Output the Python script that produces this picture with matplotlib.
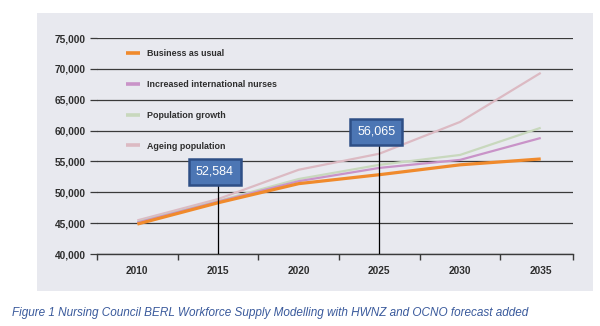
import matplotlib.pyplot as plt
from matplotlib.patches import Rectangle
from matplotlib.ticker import FuncFormatter

# Nurse workforce supply scenarios (BERL model)
years = [2010, 2015, 2020, 2025, 2030, 2035]
business_as_usual = [44850, 48300, 51400, 52850, 54450, 55400]
intl_nurses = [45100, 48500, 51800, 53950, 55250, 58800]
population_growth = [45200, 48600, 52150, 54450, 56050, 60450]
ageing_population = [45450, 48900, 53650, 56250, 61400, 69350]

# HWNZ / OCNO forecasts added as callouts
forecast_years = [2015, 2025]
forecast_values = [52584, 56065]
callout_heights = [53300, 59800]

fig = plt.figure(figsize=(6, 3.26), dpi=100)
fig.patches.append(Rectangle((37 / 600, 1 - 291 / 326), 556 / 600, 278 / 326,
                             transform=fig.transFigure, facecolor='#e8e9ef',
                             edgecolor='none', zorder=-1))

ax = fig.add_axes([97 / 600, 1 - 254 / 326, 476 / 600, 216 / 326])
ax.set_facecolor('none')
ax.set_zorder(2)

series = [
    ('Business as usual', business_as_usual, '#f08a2c', 2.3),
    ('Increased international nurses', intl_nurses, '#c993c8', 1.6),
    ('Population growth', population_growth, '#c8d8bd', 1.6),
    ('Ageing population', ageing_population, '#dcbac3', 1.6),
]
# draw ageing first so business as usual sits on top
for label, vals, col, lw in reversed(series):
    ax.plot(years, vals, color=col, lw=lw, label=label, solid_capstyle='butt')

ax.set_xlim(2007.5, 2037)
ax.set_ylim(40000, 75000)
ax.set_yticks(range(40000, 75001, 5000))
ax.yaxis.set_major_formatter(FuncFormatter(lambda v, p: f'{int(v):,}'))
ax.set_xticks(years)
ax.set_xticks([2007.5, 2012.5, 2017.5, 2022.5, 2027.5, 2032.5, 2037], minor=True)
ax.grid(axis='y', color='#3a3a3a', lw=0.9)
ax.set_axisbelow(True)
for s in ['top', 'right', 'left']:
    ax.spines[s].set_visible(False)
ax.spines['bottom'].set_color('#3a3a3a')
ax.spines['bottom'].set_linewidth(1.0)

ax.tick_params(axis='x', which='major', length=0, pad=9)
ax.tick_params(axis='x', which='minor', length=4, width=1, color='#3a3a3a')
ax.tick_params(axis='y', length=5, width=0.9, color='#3a3a3a', pad=3)
for t in ax.get_xticklabels() + ax.get_yticklabels():
    t.set_fontsize(7.3)
    t.set_fontweight('bold')
    t.set_color('#2e2e2e')
    t.set_family('Liberation Sans')

handles, labels = ax.get_legend_handles_labels()
leg = ax.legend(handles[::-1], labels[::-1], loc='upper left',
                bbox_to_anchor=(0.044, 0.985), frameon=False,
                handlelength=1.6, handletextpad=0.8, labelspacing=2.45,
                prop={'family': 'Liberation Sans', 'weight': 'bold', 'size': 6.4})
for h in leg.get_lines():
    h.set_linewidth(2.6)
for t in leg.get_texts():
    t.set_color('#2e2e2e')

# forecast callouts with leader lines to the axis
for yr, val, h in zip(forecast_years, forecast_values, callout_heights):
    ax.plot([yr, yr], [40000, h], color='black', lw=0.9, zorder=3)
    ax.text(yr - 0.2, h, f'{val:,}', ha='center', va='center', color='white',
            fontsize=9, family='Liberation Sans', zorder=5,
            bbox=dict(boxstyle='square,pad=0.55', facecolor='#4c76b4',
                      edgecolor='#2e4f86', lw=1.8))

fig.text(12 / 600, 1 - 313 / 326,
         'Figure 1 Nursing Council BERL Workforce Supply Modelling with HWNZ and OCNO forecast added',
         fontsize=8.45, style='italic', color='#3a5a9c', family='Liberation Sans',
         va='center', ha='left')

fig.savefig('out.png', dpi=100)
